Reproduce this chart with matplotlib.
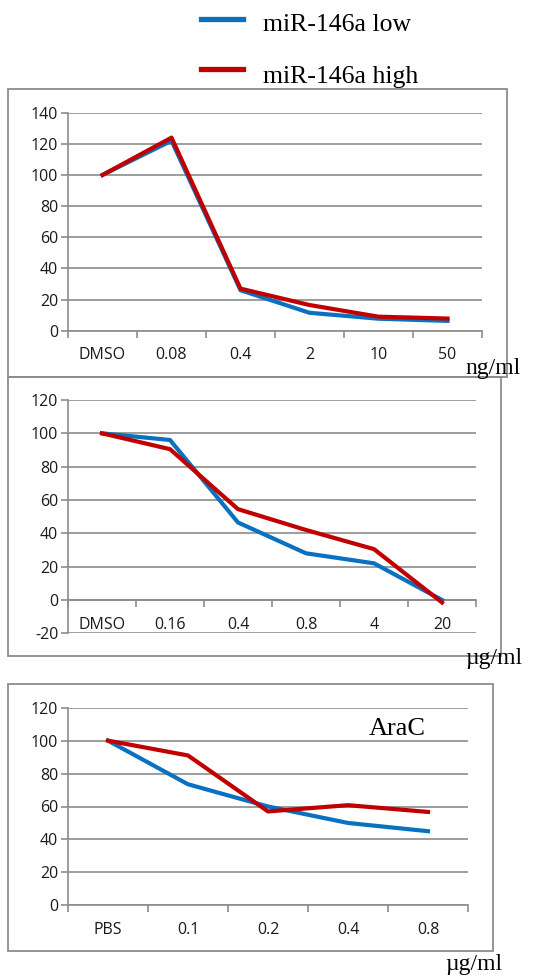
import numpy as np
import matplotlib
matplotlib.use("Agg")
import matplotlib.pyplot as plt
from matplotlib.patches import Rectangle
from matplotlib.lines import Line2D
from matplotlib.ticker import FixedLocator, NullFormatter

# ----------------------------
# Data
# ----------------------------
cats1 = ["DMSO", "0.08", "0.4", "2", "10", "50"]
low1 = [100, 122, 26, 11.5, 7.7, 6.3]
high1 = [100, 124, 27, 16.5, 9, 7.8]

cats2 = ["DMSO", "0.16", "0.4", "0.8", "4", "20"]
low2 = [100, 96, 46.5, 28, 22, 0]
high2 = [100, 90.5, 54.5, 42, 30.5, -1.5]

cats3 = ["PBS", "0.1", "0.2", "0.4", "0.8"]
low3 = [100, 73.5, 60, 50, 45]
high3 = [100, 91, 57, 60.8, 56.7]

labels = ["miR-146a low", "miR-146a high"]
BLUE = "#0a70c0"
RED = "#c00000"
GRID = "#8c8c8c"

plt.rcParams["font.family"] = ["Open Sans", "DejaVu Sans"]
plt.rcParams["axes.unicode_minus"] = False

W, H = 536, 976
fig = plt.figure(figsize=(W / 100, H / 100), dpi=100)


def fbox(x0, y0, x1, y1):
    # pixel box (top-left origin) -> figure fraction rect
    return [x0 / W, 1 - y1 / H, (x1 - x0) / W, (y1 - y0) / H]


def frame(x0, y0, x1, y1):
    r = Rectangle((x0 / W, 1 - y1 / H), (x1 - x0) / W, (y1 - y0) / H,
                  transform=fig.transFigure, fill=False, ec=GRID, lw=1.3)
    fig.patches.append(r)


def panel(rect, cats, low, high, ylim, yticks):
    ax = fig.add_axes(rect)
    n = len(cats)
    x = np.arange(n)
    ax.plot(x, low, color=BLUE, lw=3, solid_joinstyle="round", zorder=3)
    ax.plot(x, high, color=RED, lw=3, solid_joinstyle="round", zorder=4)
    ax.set_xlim(-0.5, n - 0.5)
    ax.set_ylim(*ylim)
    ax.set_yticks(yticks)
    ax.yaxis.grid(True, color=GRID, lw=1.2)
    ax.set_axisbelow(True)
    for s in ["top", "right"]:
        ax.spines[s].set_visible(False)
    for s in ["left", "bottom"]:
        ax.spines[s].set_color(GRID)
        ax.spines[s].set_linewidth(1.2)
    ax.spines["bottom"].set_position(("data", 0))
    ax.set_xticks(x)
    ax.set_xticklabels(cats)
    ax.xaxis.set_minor_locator(FixedLocator(np.arange(n + 1) - 0.5))
    ax.xaxis.set_minor_formatter(NullFormatter())
    ax.tick_params(axis="x", which="major", length=0, pad=12, labelsize=11.5, labelcolor="#1a1a1a")
    ax.tick_params(axis="x", which="minor", length=5, width=1.2, color=GRID)
    ax.tick_params(axis="y", length=5, width=1.2, color=GRID, labelsize=11.5, labelcolor="#1a1a1a", pad=2)
    ax.patch.set_visible(False)
    return ax


# ----------------------------
# Panels
# ----------------------------
frame(8, 89, 507, 377)
ax1 = panel(fbox(68, 112.7, 482, 330.7), cats1, low1, high1, (0, 140), range(0, 141, 20))

frame(8, 377, 501, 656)
ax2 = panel(fbox(68, 400, 476, 633.3), cats2, low2, high2, (-20, 120), range(-20, 121, 20))

frame(8, 684, 493, 951)
ax3 = panel(fbox(68, 707.7, 468, 905.3), cats3, low3, high3, (0, 120), range(0, 121, 20))
ax3.text(3.62, 107, "AraC", family="Liberation Serif", fontsize=19, ha="center", va="center")

serif = dict(family="Liberation Serif", fontsize=17)
fig.text(465 / W, 1 - 374 / H, "ng/ml", ha="left", va="baseline", **serif)
fig.text(465 / W, 1 - 664 / H, "µg/ml", ha="left", va="baseline", **serif)
fig.text(445 / W, 1 - 970 / H, "µg/ml", ha="left", va="baseline", **serif)

# ----------------------------
# Legend (drawn by hand)
# ----------------------------
colors = [BLUE, RED]
line_y = [18.5, 69]
text_y = [25, 77]
for c, ly, ty, lab in zip(colors, line_y, text_y, labels):
    fig.add_artist(Line2D([201 / W, 243 / W], [1 - ly / H, 1 - ly / H], color=c, lw=3.8,
                          transform=fig.transFigure))
    fig.text(263 / W, 1 - ty / H, lab, ha="left", va="center",
             family="Liberation Serif", fontsize=18.5)

plt.savefig("out.png", dpi=100)
